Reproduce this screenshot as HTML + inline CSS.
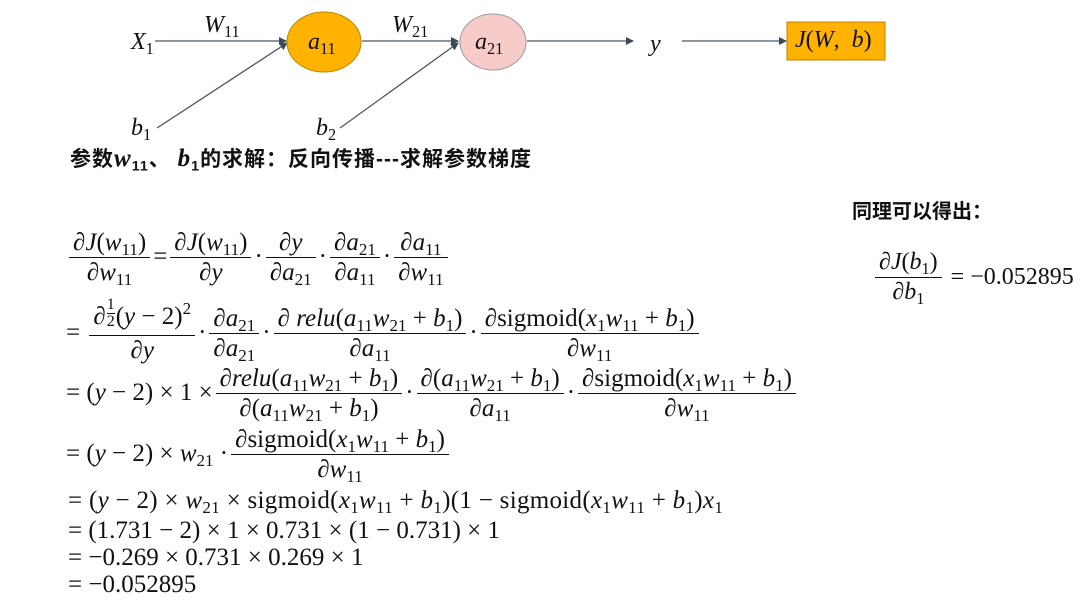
<!DOCTYPE html>
<html><head><meta charset="utf-8"><style>
body{margin:0;width:1085px;height:600px;background:#fff;position:relative;overflow:hidden;font-family:"Liberation Serif","Noto Serif CJK SC",serif;color:#111}
.a{position:absolute;white-space:nowrap}
i{font-style:italic}
sub{font-size:0.68em;vertical-align:-0.3em;line-height:0}
sup{font-size:0.68em;vertical-align:0.6em;line-height:0}
.row{position:absolute;display:flex;align-items:center;white-space:pre;font-size:25px;height:60px}
.f{display:inline-flex;flex-direction:column;align-items:stretch;margin:0 3px}
.f>span{display:block;text-align:center;padding:0 4px;line-height:29px;white-space:pre}
.f>span+span{border-top:1.3px solid #111}
.s{display:inline-flex;flex-direction:column;font-size:16px;line-height:16px;vertical-align:middle;margin:0 1px;position:relative;top:-5px}
.s>span{text-align:center}
.s>span+span{border-top:1px solid #111}
.cjk{font-family:"Liberation Sans","Noto Sans CJK SC",sans-serif;font-weight:bold}
.l{position:absolute;font-size:25px;white-space:pre}
.d{font-size:24px}
</style></head><body>
<svg class="a" style="left:0;top:0" width="1085" height="150">
<defs><marker id="ar" markerWidth="8" markerHeight="8" refX="7" refY="4" orient="auto" markerUnits="userSpaceOnUse"><path d="M0,0 L8,4 L0,8 z" fill="#3a4a5a"/></marker></defs>
<g stroke="#4a5868" stroke-width="1.3">
<line x1="155" y1="41" x2="286" y2="41" marker-end="url(#ar)"/>
<line x1="157" y1="128" x2="287" y2="43" marker-end="url(#ar)"/>
<line x1="362" y1="41" x2="458" y2="41" marker-end="url(#ar)"/>
<line x1="340" y1="128" x2="458" y2="43" marker-end="url(#ar)"/>
<line x1="527" y1="41" x2="633" y2="41" marker-end="url(#ar)"/>
<line x1="682" y1="41" x2="786" y2="41" marker-end="url(#ar)"/>
</g>
<ellipse cx="324" cy="42" rx="37" ry="30" fill="#FFB300" stroke="#b88600" stroke-width="1"/>
<ellipse cx="493" cy="42" rx="33" ry="28" fill="#F8CBCB" stroke="#999" stroke-width="1"/>
<rect x="787" y="22" width="98" height="38" fill="#FFB300" stroke="#c07f00"/>
</svg>
<div class="l d" style="left:131px;top:29px"><i>X</i><sub>1</sub></div>
<div class="l d" style="left:204px;top:12px"><i>W</i><sub>11</sub></div>
<div class="l d" style="left:308px;top:29px"><i>a</i><sub>11</sub></div>
<div class="l d" style="left:392px;top:12px"><i>W</i><sub>21</sub></div>
<div class="l d" style="left:475px;top:29px"><i>a</i><sub>21</sub></div>
<div class="l d" style="left:650px;top:31px"><i>y</i></div>
<div class="l d" style="left:795px;top:27px"><i>J</i>(<i>W</i>,  <i>b</i>)</div>
<div class="l d" style="left:131px;top:115px"><i>b</i><sub>1</sub></div>
<div class="l d" style="left:316px;top:115px"><i>b</i><sub>2</sub></div>
<div class="a cjk" style="left:70px;top:143px;font-size:21px;letter-spacing:1px">参数<i style="font-family:'Liberation Serif';font-size:25px">w</i><sub>11</sub>、 <i style="font-family:'Liberation Serif';font-size:25px">b</i><sub>1</sub>的求解：反向传播---求解参数梯度</div>
<div class="a cjk" style="left:852px;top:195px;font-size:20px">同理可以得出：</div>

<div class="row" style="left:66px;top:227px"><span class="f"><span>∂<i>J</i>(<i>w</i><sub>11</sub>)</span><span>∂<i>w</i><sub>11</sub></span></span><span>=</span><span class="f"><span>∂<i>J</i>(<i>w</i><sub>11</sub>)</span><span>∂<i>y</i></span></span><span>·</span><span class="f"><span>∂<i>y</i></span><span>∂<i>a</i><sub>21</sub></span></span><span>·</span><span class="f"><span>∂<i>a</i><sub>21</sub></span><span>∂<i>a</i><sub>11</sub></span></span><span>·</span><span class="f"><span>∂<i>a</i><sub>11</sub></span><span>∂<i>w</i><sub>11</sub></span></span></div>

<div class="row" style="left:66px;top:303px"><span>= </span><span class="f"><span>∂<span class="s"><span>1</span><span>2</span></span>(<i>y</i> − 2)<sup>2</sup></span><span>∂<i>y</i></span></span><span>·</span><span class="f"><span>∂<i>a</i><sub>21</sub></span><span>∂<i>a</i><sub>21</sub></span></span><span>·</span><span class="f"><span>∂ <i>relu</i>(<i>a</i><sub>11</sub><i>w</i><sub>21</sub> + <i>b</i><sub>1</sub>)</span><span>∂<i>a</i><sub>11</sub></span></span><span>·</span><span class="f"><span>∂sigmoid(<i>x</i><sub>1</sub><i>w</i><sub>11</sub> + <i>b</i><sub>1</sub>)</span><span>∂<i>w</i><sub>11</sub></span></span></div>

<div class="row" style="left:66px;top:363px"><span>= (<i>y</i> − 2) × 1 ×</span><span class="f"><span>∂<i>relu</i>(<i>a</i><sub>11</sub><i>w</i><sub>21</sub> + <i>b</i><sub>1</sub>)</span><span>∂(<i>a</i><sub>11</sub><i>w</i><sub>21</sub> + <i>b</i><sub>1</sub>)</span></span><span>·</span><span class="f"><span>∂(<i>a</i><sub>11</sub><i>w</i><sub>21</sub> + <i>b</i><sub>1</sub>)</span><span>∂<i>a</i><sub>11</sub></span></span><span>·</span><span class="f"><span>∂sigmoid(<i>x</i><sub>1</sub><i>w</i><sub>11</sub> + <i>b</i><sub>1</sub>)</span><span>∂<i>w</i><sub>11</sub></span></span></div>

<div class="row" style="left:66px;top:424px"><span>= (<i>y</i> − 2) × <i>w</i><sub>21</sub> ·</span><span class="f"><span>∂sigmoid(<i>x</i><sub>1</sub><i>w</i><sub>11</sub> + <i>b</i><sub>1</sub>)</span><span>∂<i>w</i><sub>11</sub></span></span></div>

<div class="l" style="left:68px;top:487px;letter-spacing:0.3px">= (<i>y</i> − 2) × <i>w</i><sub>21</sub> × sigmoid(<i>x</i><sub>1</sub><i>w</i><sub>11</sub> + <i>b</i><sub>1</sub>)(1 − sigmoid(<i>x</i><sub>1</sub><i>w</i><sub>11</sub> + <i>b</i><sub>1</sub>)<i>x</i><sub>1</sub></div>
<div class="l" style="left:68px;top:517px">= (1.731 − 2) × 1 × 0.731 × (1 − 0.731) × 1</div>
<div class="l" style="left:68px;top:544px">= −0.269 × 0.731 × 0.269 × 1</div>
<div class="l" style="left:68px;top:571px">= −0.052895</div>

<div class="row" style="left:872px;top:247px;font-size:24px"><span class="f"><span>∂<i>J</i>(<i>b</i><sub>1</sub>)</span><span>∂<i>b</i><sub>1</sub></span></span><span> = −0.052895</span></div>
</body></html>
